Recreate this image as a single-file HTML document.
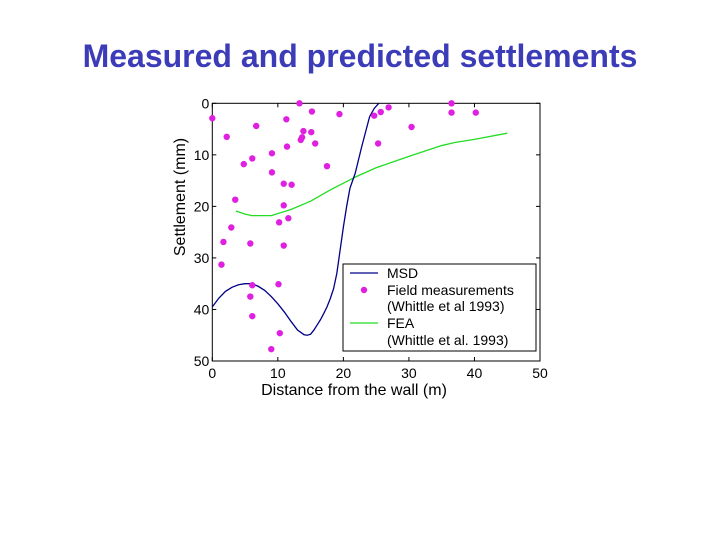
<!DOCTYPE html>
<html><head><meta charset="utf-8"><style>
body{margin:0;background:#fff;width:720px;height:540px;overflow:hidden;font-family:"Liberation Sans",sans-serif}
</style></head><body>
<div style="position:absolute;left:0;width:720px;top:38px;text-align:center;font-size:32px;font-weight:bold;color:#3c3cb8">Measured and predicted settlements</div>
<svg id="c" width="720" height="540" style="position:absolute;left:0;top:0" font-family="Liberation Sans, sans-serif"></svg>
<script>
const xTicks=[0,10,20,30,40,50];
const yTicks=[0,10,20,30,40,50];
const fieldX=[0,2.2,4.8,6.7,6.1,9.1,9.1,11.3,11.4,10.9,12.1,13.3,15.2,13.9,15.1,13.5,13.7,15.7,17.5,19.4,3.5,10.9,11.6,10.2,2.9,1.7,5.8,10.9,1.4,6.1,5.8,10.1,6.1,10.3,9.0,24.7,25.7,26.9,25.3,30.4,36.5,36.5,40.2];
const fieldY=[2.9,6.5,11.8,4.4,10.7,9.7,13.4,3.1,8.4,15.6,15.8,0,1.6,5.4,5.6,7.1,6.6,7.8,12.2,2.1,18.7,19.8,22.3,23.1,24.1,26.9,27.2,27.6,31.3,35.3,37.5,35.1,41.3,44.6,47.7,2.4,1.7,0.8,7.8,4.6,0,1.8,1.8];
const msdX=[0,1,2,3,4,5,5.5,6,7,8,9,10,11,12,13,14,14.5,15,15.5,16,16.5,17,17.5,18,18.5,19,19.5,20,20.5,21,21.8,22.3,22.8,23.4,24,24.7,25.4];
const msdY=[39.5,37.8,36.5,35.7,35.2,35,35,35,35.5,36.3,37.5,38.9,40.5,42.3,44,44.9,45,44.8,44,43,42,40.8,39.5,37.9,36,33,28.5,24,20,16.5,13.6,11,8.4,5.5,2.6,1,0];
const feaX=[3.6,5,6,9,12,15,18,20,22,25,30,35,37,40,45];
const feaY=[20.9,21.5,21.8,21.8,20.6,19,16.8,15.5,14.2,12.5,10.3,8.2,7.6,7,5.8];
const X0=212.3,X1=540,Y0=103.3,Y1=361;
const sx=v=>X0+(X1-X0)*v/50, sy=v=>Y0+(Y1-Y0)*v/50;
const svg=document.getElementById('c'),NS='http://www.w3.org/2000/svg';
function mk(t,a,p){const e=document.createElementNS(NS,t);for(const k in a)e.setAttribute(k,a[k]);(p||svg).appendChild(e);return e;}
const frame=mk('rect',{x:X0,y:Y0,width:X1-X0,height:Y1-Y0,fill:'none',stroke:'#000','stroke-width':1});


xTicks.forEach(t=>{
 mk('line',{x1:sx(t),x2:sx(t),y1:Y1,y2:Y1-4,stroke:'#000'});
 mk('line',{x1:sx(t),x2:sx(t),y1:Y0,y2:Y0+4,stroke:'#000'});
 const l=mk('text',{x:sx(t),y:Y1+17,'text-anchor':'middle','font-size':14});l.textContent=t;
 
 
});
yTicks.forEach(t=>{
 mk('line',{x1:X0,x2:X0+4,y1:sy(t),y2:sy(t),stroke:'#000'});
 mk('line',{x1:X1,x2:X1-4,y1:sy(t),y2:sy(t),stroke:'#000'});
 const l=mk('text',{x:X0-3,y:sy(t)+5,'text-anchor':'end','font-size':14});l.textContent=t;
 
 
});
const xt=mk('text',{x:354,y:395,'text-anchor':'middle','font-size':16});xt.textContent='Distance from the wall (m)';


const yt=mk('text',{x:185,y:197,'text-anchor':'middle','font-size':16,transform:'rotate(-90 185 197)'});yt.textContent='Settlement (mm)';


const fea=mk('polyline',{points:feaX.map((x,i)=>sx(x)+','+sy(feaY[i])).join(' '),fill:'none',stroke:'#22dd22','stroke-width':1.3});


const msd=mk('polyline',{points:msdX.map((x,i)=>sx(x)+','+sy(msdY[i])).join(' '),fill:'none',stroke:'#000088','stroke-width':1.3});


fieldX.forEach((x,i)=>{
 const c=mk('circle',{cx:sx(x),cy:sy(fieldY[i]),r:3.2,fill:'#e020e0'});
 
 
});
const lg=mk('g',{});


mk('rect',{x:343,y:264,width:193,height:87,fill:'#fff',stroke:'#000'},lg);
mk('line',{x1:350,x2:378,y1:273,y2:273,stroke:'#000088','stroke-width':1.3},lg);
mk('circle',{cx:364,cy:290,r:3.2,fill:'#e020e0'},lg);
mk('line',{x1:350,x2:378,y1:323,y2:323,stroke:'#22dd22','stroke-width':1.3},lg);
[['MSD',278],['Field measurements',295],['(Whittle et al 1993)',311],['FEA',328],['(Whittle et al. 1993)',345]].forEach(([s,y])=>{
 const t=mk('text',{x:387,y:y,'font-size':14},lg);t.textContent=s;
 
 
});
</script>
</body></html>
